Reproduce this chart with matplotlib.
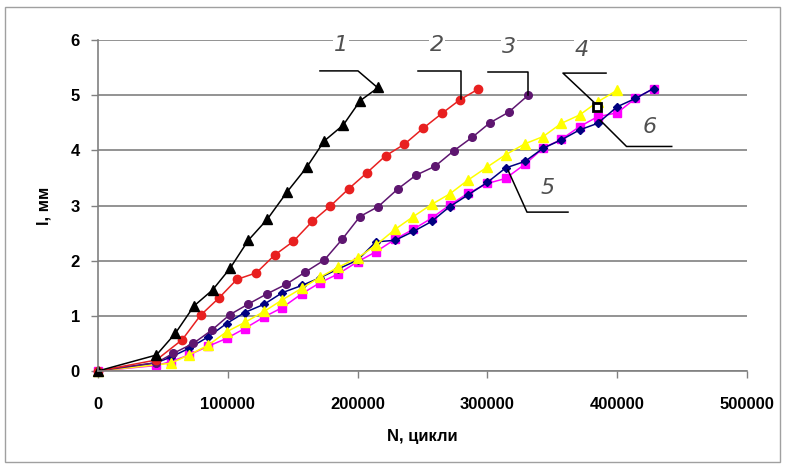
import matplotlib
matplotlib.use("Agg")
import matplotlib.pyplot as plt
from matplotlib.patches import Rectangle

# ---- data ----
n1 = [0, 45000, 59500, 74000, 88300, 101700, 115800, 130400, 145800, 160700, 174300, 189000, 202000, 216000]
l1 = [0, 0.29, 0.68, 1.18, 1.47, 1.86, 2.37, 2.75, 3.25, 3.69, 4.17, 4.46, 4.90, 5.14]

n2 = [0, 45000, 65000, 79000, 93000, 107000, 122000, 136000, 150500, 165000, 179000, 193000, 207000,
      221500, 236000, 250500, 265000, 279000, 293000]
l2 = [0, 0.20, 0.57, 1.01, 1.32, 1.66, 1.78, 2.10, 2.35, 2.71, 2.99, 3.30, 3.59,
      3.90, 4.11, 4.40, 4.67, 4.92, 5.11]

n3 = [0, 45000, 58000, 73400, 87600, 101500, 115500, 130300, 144800, 159500, 174300, 188200, 201800,
      215900, 231000, 245000, 259600, 274000, 288500, 302000, 316300, 331500]
l3 = [0, 0.15, 0.32, 0.50, 0.74, 1.02, 1.21, 1.40, 1.57, 1.79, 2.01, 2.39, 2.80,
      2.98, 3.30, 3.55, 3.71, 3.99, 4.24, 4.50, 4.69, 5.00]

n4 = [0, 56000, 70000, 85000, 99000, 113000, 128000, 142000, 157000, 171000, 185000, 200000, 214000,
      229000, 243000, 257000, 271000, 285000, 300000, 314000, 329000, 343000, 357000, 371000, 385000, 400000]
l4 = [0, 0.14, 0.29, 0.47, 0.71, 0.88, 1.08, 1.29, 1.50, 1.70, 1.88, 2.05, 2.28,
      2.57, 2.80, 3.02, 3.21, 3.46, 3.70, 3.92, 4.12, 4.25, 4.49, 4.64, 4.88, 5.09]

n5 = [0, 45000, 56000, 70000, 85000, 99000, 113000, 128000, 142000, 157000, 171000, 185000, 200000,
      214000, 229000, 243000, 257000, 271000, 285000, 300000, 314000, 329000, 343000, 357000, 371000,
      385000, 400000, 414000, 428000]
l5 = [0, 0.15, 0.25, 0.41, 0.62, 0.86, 1.06, 1.21, 1.42, 1.55, 1.69, 1.85, 2.01,
      2.34, 2.37, 2.53, 2.71, 2.98, 3.19, 3.42, 3.68, 3.80, 4.04, 4.19, 4.37,
      4.49, 4.79, 4.94, 5.12]

n6 = n5
l6 = [0, 0.10, 0.17, 0.29, 0.45, 0.59, 0.77, 0.98, 1.15, 1.40, 1.60, 1.76, 1.98,
      2.16, 2.39, 2.57, 2.77, 3.01, 3.22, 3.40, 3.49, 3.75, 4.04, 4.20, 4.43,
      4.61, 4.68, 4.94, 5.12]

x_ticks = [0, 100000, 200000, 300000, 400000, 500000]
y_ticks = [0, 1, 2, 3, 4, 5, 6]
curve_labels = ["1", "2", "3", "4", "5", "6"]

# ---- figure ----
fig = plt.figure(figsize=(7.85, 4.70), dpi=100)
fig.patches.append(Rectangle((5 / 785, 8 / 470), 775 / 785, 455 / 470, transform=fig.transFigure,
                             fill=False, edgecolor="#a0a0a0", linewidth=1))
ax = fig.add_axes([98 / 785, 1 - 371 / 470, 649 / 785, 331 / 470])

ax.set_xlim(0, 500000)
ax.set_ylim(0, 6)
ax.set_xticks(x_ticks)
ax.set_yticks(y_ticks)
ax.set_xticklabels([str(v) for v in x_ticks])
ax.set_yticklabels([str(v) for v in y_ticks])
for s in ["top", "right"]:
    ax.spines[s].set_visible(False)
for s in ["left", "bottom"]:
    ax.spines[s].set_color("#808080")
    ax.spines[s].set_linewidth(1.2)
ax.yaxis.grid(True, color="#808080", linewidth=1.2)
ax.set_axisbelow(True)
ax.tick_params(axis="both", direction="out", length=5, color="#808080", width=1)
ax.tick_params(axis="x", pad=14)
ax.tick_params(axis="y", pad=8)
for t in ax.get_xticklabels() + ax.get_yticklabels():
    t.set_fontfamily("Liberation Sans")
    t.set_fontweight("bold")
    t.set_fontsize(12)

ax.set_xlabel("N, цикли", fontfamily="Liberation Sans", fontweight="bold", fontsize=12, labelpad=12)
ax.set_ylabel("l, мм", fontfamily="Liberation Sans", fontweight="bold", fontsize=12, labelpad=14)

kw = dict(linewidth=1.1, clip_on=False)
ax.plot(n6, l6, color="#ff00ff", marker="s", markersize=5.5, markeredgecolor="#ff00ff", **kw)
ax.plot(n5, l5, color="#000080", marker="D", markersize=4.5, markeredgecolor="#000080", **kw)
ax.plot(n4, l4, color="#ffff00", marker="^", markersize=6.5, markeredgecolor="#ffff00", **kw)
ax.plot(n3, l3, color="#5e1670", marker="o", markersize=5.5, markeredgecolor="#5e1670", **kw)
ax.plot(n2, l2, color="#e82020", marker="o", markersize=6, markeredgecolor="#e82020", **kw)
ax.plot(n1, l1, color="#000000", marker="^", markersize=6.5, **kw)
ax.plot([384400], [4.79], marker="s", markersize=6, color="black", markerfacecolor="white",
        markeredgewidth=2, linestyle="none", zorder=5)

# ---- leader lines & labels ----
leaders = [
    ([171000, 200300, 215700], [5.44, 5.44, 5.13]),
    ([246500, 279700, 279700], [5.44, 5.44, 4.93]),
    ([300500, 331300, 331300], [5.42, 5.42, 5.00]),
    ([391400, 358200, 384400], [5.40, 5.40, 4.82]),
    ([362100, 330500, 315900], [2.88, 2.88, 3.64]),
    ([442000, 407200, 386700], [4.07, 4.07, 4.55]),
]
for xs, ys in leaders:
    ax.plot(xs, ys, color="black", linewidth=1.1, zorder=4)

label_pos = [(187200, 5.91), (261200, 5.91), (316600, 5.88), (372900, 5.82), (346700, 3.32), (425300, 4.42)]
for lab, (x, y) in zip(curve_labels, label_pos):
    ax.text(x, y, lab, fontsize=16, style="italic", color="#505050", fontfamily="DejaVu Sans",
            fontweight="light", ha="center", va="center", zorder=6,
            bbox=dict(facecolor="white", edgecolor="none", pad=1))

fig.savefig("out.png", dpi=100)
